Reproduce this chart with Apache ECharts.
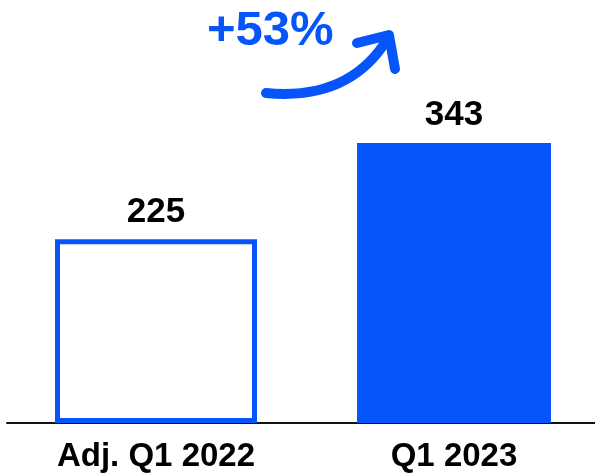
<!DOCTYPE html>
<html>
<head>
<meta charset="utf-8">
<script src="https://cdn.jsdelivr.net/npm/echarts@6/dist/echarts.min.js"></script>
<style>html,body{margin:0;padding:0;background:#fff}#c{width:595px;height:473px}</style>
</head>
<body>
<div id="c"></div>
<script>
var categories = ['Adj. Q1 2022', 'Q1 2023'];
var values = [225, 343];
var growthLabel = '+53%';

var BLUE = '#0555FA';
var labelStyle = {show: true, position: 'top', distance: 10, color: '#000',
  fontFamily: 'Liberation Sans, Arial', fontWeight: 'bold', fontSize: 35};
var chart = echarts.init(document.getElementById('c'), null, {renderer: 'canvas'});
chart.setOption({
  animation: false,
  grid: {left: 7, width: 596, top: 99, height: 324, containLabel: false, outerBoundsMode: 'none'},
  xAxis: [{
    type: 'category', data: categories,
    axisLine: {lineStyle: {color: '#111', width: 2}},
    axisTick: {show: false},
    axisLabel: {color: '#000', fontFamily: 'Liberation Sans, Arial', fontWeight: 'bold', fontSize: 33, margin: 17}
  }, {
    type: 'category', data: categories, show: false, position: 'bottom'
  }],
  yAxis: {type: 'value', min: 0, max: 397, show: false, splitLine: {show: false}},
  series: [{
    type: 'bar', barWidth: 202, xAxisIndex: 1, z: 1,
    data: [values[0], '-'],
    itemStyle: {color: '#fff', borderColor: BLUE, borderWidth: 5},
    label: labelStyle
  }, {
    type: 'bar', barWidth: 194, xAxisIndex: 0,
    data: ['-', values[1]],
    itemStyle: {color: BLUE},
    label: labelStyle
  }],
  graphic: [
    {type: 'text', x: 207, y: 7, style: {text: growthLabel, fill: BLUE,
      font: 'bold 49px "Liberation Sans", Arial'}},
    {type: 'bezierCurve', shape: {x1: 266, y1: 93, cpx1: 350, cpy1: 101, x2: 388, y2: 38},
      style: {fill: null, stroke: BLUE, lineWidth: 10, lineCap: 'round'}},
    {type: 'polyline', shape: {points: [[357, 43], [389, 35], [395, 69]]},
      style: {fill: null, stroke: BLUE, lineWidth: 10, lineCap: 'round', lineJoin: 'round'}}
  ]
});
</script>
</body>
</html>
